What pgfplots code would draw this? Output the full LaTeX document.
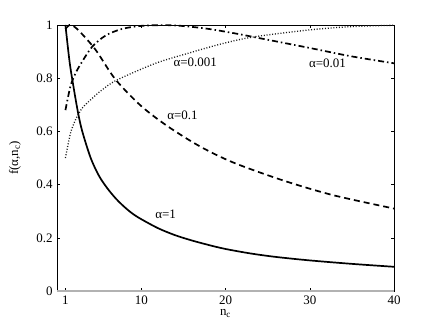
\documentclass[border=0pt]{standalone}
\usepackage{pgfplots}
\pgfplotsset{compat=1.18}
\usepackage{fontspec}
\setmainfont{Liberation Serif}
\begin{document}
\rmfamily\fontsize{13}{15}\selectfont
\begin{tikzpicture}[font=\rmfamily\fontsize{13}{15}\selectfont]
\useasboundingbox (-57bp,-36bp) rectangle (379bp,291bp);
\begin{axis}[
  at={(0,0)}, anchor=south west,
  scale only axis, width=337bp, height=266bp,
  xmin=0, xmax=40, ymin=0, ymax=1,
  xtick={1,10,20,30,40},
  ytick={0,0.2,0.4,0.6,0.8,1},
  yticklabels={0,0.2,0.4,0.6,0.8,1},
  xticklabels={1,10,20,30,40},
  tick align=inside, major tick length=3bp,
  tick style={black, line width=0.4pt},
  axis line style={line width=0.6pt},
  /pgf/number format/assume math mode=true,
  ticklabel style={font=\rmfamily\fontsize{13}{15}\selectfont},
  label style={font=\rmfamily\fontsize{13}{15}\selectfont},
  xlabel={n\textsubscript{c}},
  ylabel={f(α,n\textsubscript{c})},
  xlabel style={at={(axis description cs:0.5,-0.085)}, anchor=center},
  ylabel style={at={(axis description cs:-0.125,0.5)}, anchor=center},
  clip=false,
]
% alpha = 1
\addplot[black, line width=1.7bp, smooth] coordinates {
(1,1.0) (1.5,0.86) (2,0.76) (2.5,0.67) (3,0.6) (4,0.5) (5,0.432) (6,0.385) (7,0.347) (8,0.316) (9,0.29) (10,0.27) (12,0.236) (14,0.21) (16,0.19) (18,0.173) (20,0.158) (23,0.141) (26,0.128) (30,0.115) (35,0.102) (40,0.091)};
% alpha = 0.1
\addplot[black, line width=1.7bp, dash pattern=on 6bp off 4bp, smooth] coordinates {
(1,0.985) (1.5,1.0) (2,0.995) (2.8,0.972) (4.6,0.906) (6.9,0.797) (9.9,0.698) (13.1,0.62) (17,0.543) (21,0.482) (26.9,0.415) (32.8,0.36) (40,0.31)};
% alpha = 0.01
\addplot[black, line width=1.7bp, dash pattern=on 6bp off 3bp on 1.5bp off 3bp, smooth] coordinates {
(1,0.68) (1.6,0.77) (2.19,0.818) (2.98,0.862) (4.17,0.918) (5.75,0.96) (7.7,0.985) (10.1,0.997) (13.7,0.999) (17.6,0.987) (21.2,0.968) (23.8,0.952) (30.1,0.913) (34.8,0.883) (40,0.856)};
% alpha = 0.001
\addplot[black!90, line width=1.3bp, dash pattern=on 1bp off 1.8bp, smooth] coordinates {
(1,0.5) (1.6,0.593) (2.19,0.643) (2.98,0.687) (4.17,0.724) (5.35,0.756) (7.1,0.793) (11.7,0.856) (15.6,0.894) (19.4,0.928) (23.3,0.955) (30.1,0.982) (35,0.994) (40,0.999)};
\addplot[gray!60, line width=1.4bp, forget plot] coordinates {(0,0) (40,0)};
\node at (axis cs:16.4,0.861) {α=0.001};
\node at (axis cs:32.1,0.857) {α=0.01};
\node at (axis cs:14.9,0.662) {α=0.1};
\node at (axis cs:12.9,0.29) {α=1};
\end{axis}
\end{tikzpicture}
\end{document}
